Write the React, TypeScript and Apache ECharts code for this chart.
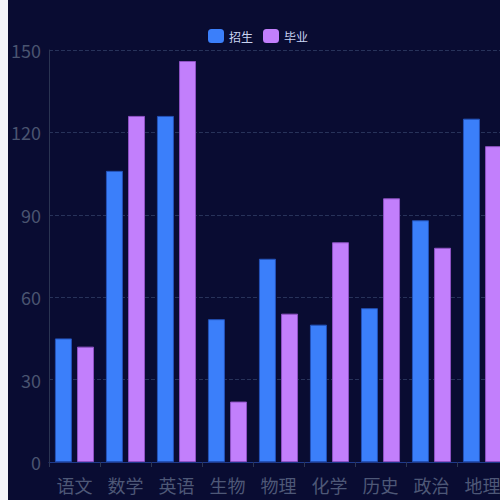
import React, { useEffect, useRef } from 'react';
import * as echarts from 'echarts';

type EChartsOption = echarts.EChartsOption;

const subjects = ['语文', '数学', '英语', '生物', '物理', '化学', '历史', '政治', '地理'];
const enrolled = [45, 106, 126, 52, 74, 50, 56, 88, 125];
const graduated = [42, 126, 146, 22, 54, 80, 96, 78, 115];
const yTicks = { min: 0, max: 150, interval: 30 };

const App: React.FC = () => {
  const chartRef = useRef<HTMLDivElement>(null);

  useEffect(() => {
    if (!chartRef.current) return;
    document.body.style.background = '#f3f5fa';

    const option: EChartsOption = {
      animation: false,
      backgroundColor: '#090c32',
      textStyle: { fontFamily: 'Noto Sans CJK SC, Noto Sans, sans-serif' },
      legend: {
        top: 24,
        left: 'center',
        itemWidth: 16,
        itemHeight: 14,
        itemGap: 10,
        icon: 'roundRect',
        itemStyle: { borderWidth: 0 },
        textStyle: { color: '#c9d4f2', fontSize: 12 },
        data: ['招生', '毕业'],
      },
      grid: { left: 39, right: 0, top: 50, bottom: 38 },
      xAxis: {
        type: 'category',
        data: subjects,
        axisLine: { show: true, lineStyle: { color: '#1e3a8a', width: 1 } },
        axisTick: { show: true, length: 5, lineStyle: { color: '#2c3654' } },
        axisLabel: { color: '#4e5877', fontSize: 18, margin: 14 },
      },
      yAxis: {
        type: 'value',
        min: yTicks.min,
        max: yTicks.max,
        interval: yTicks.interval,
        axisLine: { show: true, lineStyle: { color: '#2a3452' } },
        axisTick: { show: false },
        axisLabel: { color: '#4a5470', fontSize: 18, margin: 8 },
        splitLine: { lineStyle: { color: '#28335a', type: 'dashed' } },
      },
      series: [
        {
          name: '招生',
          type: 'bar',
          data: enrolled,
          barWidth: 17,
          barGap: '30%',
          itemStyle: { color: '#3b7ffa', borderColor: '#2452b8', borderWidth: 1 },
        },
        {
          name: '毕业',
          type: 'bar',
          data: graduated,
          barWidth: 17,
          itemStyle: { color: '#c27ffc', borderColor: '#8e52c4', borderWidth: 1 },
        },
      ],
    };

    const myChart = echarts.init(chartRef.current, null, { renderer: 'svg' });
    myChart.setOption(option);

    return () => {
      myChart.dispose();
    };
  }, []);

  return (
    <div
      ref={chartRef}
      style={{ position: 'absolute', left: 8, top: 0, width: 500, height: 500 }}
    />
  );
};

export default App;
